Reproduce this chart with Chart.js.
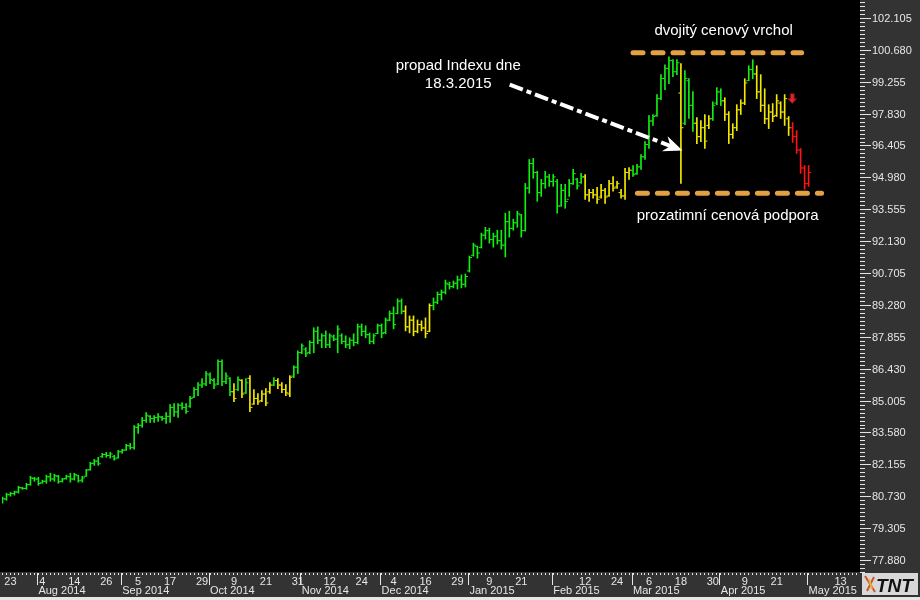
<!DOCTYPE html>
<html>
<head>
<meta charset="utf-8">
<script src="https://cdn.jsdelivr.net/npm/chart.js@4.4.1/dist/chart.umd.min.js"></script>
<style>
  html, body { margin: 0; padding: 0; background: #000; }
  canvas { display: block; }
</style>
</head>
<body>
<canvas id="chart" width="920" height="600"></canvas>
<script>
// denni OHLC data indexu (index = obchodni den od 21.7.2014)
const OPEN = [
  80.45, 80.60, 80.80, 80.85, 80.92, 81.10, 81.08, 81.25, 81.52, 81.50,
  81.33, 81.40, 81.60, 81.50, 81.62, 81.40, 81.52, 81.60, 81.50, 81.65,
  81.45, 81.62, 81.92, 82.20, 82.30, 82.50, 82.60, 82.55, 82.50, 82.45,
  82.72, 82.80, 82.98, 82.90, 83.80, 83.90, 84.12, 84.30, 84.20, 84.25,
  84.26, 84.20, 84.30, 84.70, 84.50, 84.80, 84.70, 84.75, 85.15, 85.50,
  85.70, 85.75, 86.15, 85.90, 85.75, 86.75, 85.85, 86.00, 85.40, 85.50,
  85.90, 85.35, 86.00, 84.85, 85.10, 85.00, 85.30, 85.40, 85.70, 85.90,
  85.70, 85.50, 85.30, 86.10, 86.50, 87.15, 87.30, 87.15, 87.60, 88.10,
  87.70, 87.90, 87.50, 87.85, 87.75, 87.90, 87.65, 87.50, 87.70, 87.60,
  88.30, 88.10, 87.95, 87.65, 88.00, 88.35, 88.05, 88.60, 88.90, 88.90,
  89.45, 89.00, 88.30, 88.60, 88.10, 88.40, 88.25, 88.10, 89.25, 89.40,
  89.75, 89.85, 90.20, 90.10, 90.25, 90.40, 90.20, 90.80, 91.50, 91.90,
  91.85, 92.40, 92.60, 92.20, 92.35, 92.15, 91.95, 93.00, 92.70, 92.95,
  93.30, 92.60, 94.50, 95.60, 95.20, 94.30, 94.70, 95.00, 94.80, 94.80,
  93.70, 94.40, 94.00, 94.70, 94.90, 94.75, 95.00, 94.20, 94.30, 94.20,
  94.10, 94.40, 94.15, 94.70, 94.55, 94.30, 94.15, 95.20, 95.30, 95.15,
  95.45, 95.90, 96.45, 97.50, 97.75, 98.50, 99.40, 99.85, 100.20, 99.70,
  98.75, 97.40, 99.30, 98.20, 97.40, 96.80, 97.20, 97.30, 97.60, 98.30,
  98.80, 98.40, 97.80, 96.90, 97.20, 98.00, 98.30, 99.30, 99.80, 99.60,
  98.80, 98.20, 97.60, 97.90, 97.75, 98.30, 97.90, 97.60, 97.20, 96.80,
  96.20, 95.40, 94.70
];
const HIGH = [
  80.69, 80.87, 80.91, 80.96, 81.18, 81.13, 81.31, 81.62, 81.58, 81.58,
  81.45, 81.67, 81.76, 81.71, 81.67, 81.53, 81.67, 81.76, 81.76, 81.67,
  81.62, 81.93, 82.25, 82.38, 82.47, 82.65, 82.69, 82.69, 82.56, 82.78,
  82.83, 83.05, 83.09, 83.89, 83.98, 84.25, 84.47, 84.34, 84.34, 84.43,
  84.30, 84.47, 84.83, 84.87, 84.87, 84.92, 84.87, 85.19, 85.59, 85.81,
  85.99, 86.30, 86.25, 85.99, 86.83, 86.83, 86.25, 86.03, 85.76, 86.07,
  85.94, 85.99, 86.12, 85.50, 85.32, 85.45, 85.54, 85.81, 86.03, 85.99,
  85.81, 85.72, 86.12, 86.56, 87.23, 87.54, 87.37, 87.68, 88.26, 88.30,
  87.99, 88.12, 87.99, 87.94, 88.35, 87.99, 87.90, 87.81, 87.99, 88.43,
  88.43, 88.35, 88.03, 87.99, 88.43, 88.43, 88.70, 89.01, 89.19, 89.55,
  89.55, 89.24, 88.79, 88.79, 88.61, 88.57, 88.70, 89.33, 89.59, 89.86,
  89.95, 90.39, 90.30, 90.35, 90.57, 90.62, 90.66, 91.46, 92.04, 91.91,
  92.49, 92.75, 92.71, 92.49, 92.62, 92.62, 93.38, 93.47, 93.11, 93.47,
  93.33, 94.71, 95.78, 95.83, 95.25, 94.89, 95.25, 95.11, 95.11, 94.89,
  94.67, 94.67, 94.89, 95.34, 94.94, 95.16, 95.11, 94.45, 94.45, 94.53,
  94.67, 94.49, 94.85, 95.02, 94.80, 94.45, 95.38, 95.42, 95.51, 95.56,
  96.00, 96.58, 97.74, 97.79, 98.68, 99.57, 100.01, 100.37, 100.24, 100.24,
  100.06, 99.75, 99.39, 98.81, 97.65, 97.52, 97.79, 97.74, 98.36, 98.99,
  98.94, 98.54, 97.92, 97.38, 98.23, 98.45, 99.39, 99.97, 100.24, 99.97,
  99.57, 98.94, 98.23, 98.28, 98.68, 98.36, 98.68, 97.70, 97.43, 97.07,
  96.27, 95.51, 95.51
];
const LOW = [
  80.42, 80.55, 80.73, 80.78, 80.87, 81.04, 81.04, 81.22, 81.40, 81.22,
  81.31, 81.31, 81.40, 81.40, 81.31, 81.36, 81.49, 81.36, 81.45, 81.36,
  81.36, 81.62, 81.89, 82.11, 82.11, 82.47, 82.47, 82.43, 82.34, 82.43,
  82.65, 82.78, 82.83, 82.83, 83.54, 83.81, 84.03, 84.03, 84.03, 84.07,
  84.12, 83.98, 84.03, 84.30, 84.25, 84.61, 84.43, 84.70, 85.14, 85.23,
  85.59, 85.67, 85.76, 85.54, 85.72, 85.67, 85.76, 85.23, 84.96, 85.45,
  85.14, 85.32, 84.51, 84.83, 84.83, 84.96, 84.78, 85.32, 85.67, 85.54,
  85.36, 85.23, 85.18, 86.03, 86.21, 87.10, 86.97, 87.10, 87.14, 87.54,
  87.37, 87.37, 87.37, 87.68, 87.14, 87.54, 87.37, 87.32, 87.45, 87.54,
  87.90, 87.81, 87.54, 87.54, 87.99, 87.81, 87.99, 88.57, 88.21, 88.88,
  88.88, 88.12, 88.03, 87.90, 88.03, 88.12, 87.81, 88.08, 89.06, 89.33,
  89.50, 89.77, 89.99, 90.04, 89.99, 90.04, 90.08, 90.75, 91.46, 91.37,
  91.82, 92.22, 92.04, 91.86, 92.00, 91.77, 91.42, 92.31, 92.62, 92.75,
  92.31, 92.58, 94.27, 94.94, 93.91, 94.13, 94.49, 94.58, 94.58, 93.38,
  93.69, 93.60, 94.13, 94.67, 94.45, 94.71, 94.00, 93.91, 94.05, 93.82,
  94.05, 93.82, 94.13, 94.36, 94.49, 94.05, 94.00, 94.89, 95.02, 95.11,
  95.34, 95.78, 96.27, 97.30, 97.70, 98.45, 98.90, 99.17, 99.48, 99.57,
  94.71, 97.34, 97.61, 97.03, 96.49, 96.58, 96.27, 97.16, 97.52, 98.23,
  98.19, 97.52, 96.49, 96.72, 97.07, 97.79, 98.23, 99.30, 99.39, 98.50,
  97.92, 97.38, 97.16, 97.47, 97.70, 97.61, 97.30, 96.85, 96.54, 96.05,
  95.16, 94.45, 94.58
];
const CLOSE = [
  80.62, 80.80, 80.85, 80.92, 81.12, 81.08, 81.25, 81.55, 81.50, 81.30,
  81.40, 81.60, 81.50, 81.65, 81.38, 81.50, 81.62, 81.50, 81.70, 81.42,
  81.55, 81.90, 82.20, 82.30, 82.18, 82.60, 82.55, 82.62, 82.40, 82.72,
  82.78, 83.00, 82.90, 83.82, 83.90, 84.12, 84.35, 84.20, 84.25, 84.30,
  84.20, 84.30, 84.70, 84.50, 84.80, 84.70, 84.52, 85.10, 85.50, 85.70,
  85.75, 86.20, 85.95, 85.70, 86.75, 85.85, 86.10, 85.40, 85.10, 85.95,
  85.30, 85.80, 84.70, 85.10, 84.95, 85.30, 84.90, 85.70, 85.90, 85.70,
  85.50, 85.35, 86.05, 86.50, 87.15, 87.45, 87.10, 87.60, 88.10, 87.70,
  87.90, 87.50, 87.90, 87.75, 88.20, 87.65, 87.50, 87.70, 87.60, 88.30,
  88.10, 87.95, 87.65, 87.90, 88.35, 88.00, 88.60, 88.90, 88.40, 89.45,
  89.00, 88.30, 88.60, 88.10, 88.40, 88.25, 88.00, 89.25, 89.40, 89.75,
  89.85, 90.25, 90.10, 90.25, 90.40, 90.20, 90.55, 91.40, 91.95, 91.60,
  92.40, 92.60, 92.20, 92.35, 92.15, 91.95, 93.00, 92.70, 92.95, 93.35,
  92.60, 94.50, 95.60, 95.20, 94.30, 94.70, 95.00, 94.80, 95.00, 93.70,
  94.40, 93.90, 94.70, 95.15, 94.60, 95.00, 94.20, 94.30, 94.20, 94.00,
  94.40, 94.10, 94.70, 94.50, 94.70, 94.15, 95.20, 95.30, 95.10, 95.45,
  95.90, 96.45, 97.50, 97.70, 98.50, 99.40, 99.85, 100.20, 99.70, 100.10,
  97.20, 99.40, 98.20, 97.40, 96.80, 97.20, 96.60, 97.60, 98.20, 98.80,
  98.40, 97.80, 96.90, 97.20, 98.00, 98.30, 99.20, 99.80, 99.60, 98.80,
  98.20, 97.60, 97.90, 97.70, 98.40, 97.90, 98.50, 97.20, 96.80, 96.20,
  95.40, 94.70, 95.20
];

// barva signalu: zelena je vychozi, tady useky zlute / cervene [od, do, kod]
const SIGNAL_SPANS = [
  [58, 58, 'y'], [60, 60, 'y'], [62, 67, 'y'], [69, 72, 'y'],
  [101, 107, 'y'], [146, 157, 'y'], [170, 170, 'y'], [174, 177, 'y'],
  [181, 186, 'y'], [189, 197, 'y'], [198, 202, 'r']
];
const SIGNAL_COLORS = { g: '#12ee12', y: '#f4e800', r: '#ff1414' };

// osa Y
const Y_TICKS = [77.880, 79.305, 80.730, 82.155, 83.580, 85.005, 86.430, 87.855, 89.280,
  90.705, 92.130, 93.555, 94.980, 96.405, 97.830, 99.255, 100.680, 102.105];
const Y_MIN = 77.345;
const Y_MAX = 102.8175;

// osa X: popisky dnu a mesicu (index obchodniho dne)
const DAY_TICKS = [[2, '23'], [10, '4'], [18, '14'], [26, '26'], [34, '5'], [42, '17'], [50, '29'],
  [58, '9'], [66, '21'], [74, '31'], [82, '12'], [90, '24'], [98, '4'], [106, '16'], [114, '29'],
  [122, '9'], [130, '21'], [146, '12'], [154, '24'], [162, '6'], [170, '18'], [178, '30'],
  [186, '9'], [194, '21'], [210, '13']];
const MONTH_TICKS = [[9, 'Aug 2014'], [30, 'Sep 2014'], [52, 'Oct 2014'], [75, 'Nov 2014'],
  [95, 'Dec 2014'], [117, 'Jan 2015'], [138, 'Feb 2015'], [158, 'Mar 2015'], [180, 'Apr 2015'],
  [202, 'May 2015']];
const X_MIN = -0.125;
const X_MAX = 214.125;

// anotace v souradnicich dat
const TOP_LINE = { from: 158, to: 200.25, value: 100.55 };
const SUPPORT_LINE = { from: 159.1, to: 205.25, value: 94.27 };
const TEXTS = [
  { text: 'dvojitý cenový vrchol', x: 180.7, y: 101.53 },
  { text: 'prozatimní cenová podpora', x: 181.7, y: 93.24 },
  { text: 'propad Indexu dne', x: 114.2, y: 99.97 },
  { text: '18.3.2015', x: 114.2, y: 99.17 }
];
const ARROW = { x0: 127.1, y0: 99.12, x1: 170.4, y1: 96.18 };
const RED_MARK = { x: 197.9, top: 98.72, bottom: 98.28 };

const FONT = "'Liberation Sans', Arial, sans-serif";
Chart.defaults.font.family = FONT;

// barvy pro kazdy sloupec
const barColors = HIGH.map(() => SIGNAL_COLORS.g);
SIGNAL_SPANS.forEach(([a, b, code]) => {
  for (let i = a; i <= b; i++) barColors[i] = SIGNAL_COLORS[code];
});

const rangeData = HIGH.map((h, i) => ({ x: i, y: [LOW[i], h] }));
const openData = OPEN.map((v, i) => ({ x: i - 0.375, y: v }));
const closeData = CLOSE.map((v, i) => ({ x: i + 0.375, y: v }));

// pozadi, osy a anotace
const decorPlugin = {
  id: 'decor',
  beforeDraw(chart) {
    const ctx = chart.ctx;
    const a = chart.chartArea;
    ctx.save();
    ctx.fillStyle = '#000';
    ctx.fillRect(0, 0, chart.width, chart.height);
    ctx.fillStyle = '#333333';
    ctx.fillRect(a.right + 3, 0, chart.width - a.right - 3, a.bottom);
    ctx.fillRect(0, a.bottom, chart.width, 25);
    ctx.fillStyle = '#e6e6e6';
    ctx.fillRect(0, a.bottom + 25, chart.width, chart.height - a.bottom - 25);
    ctx.restore();
  },
  afterDraw(chart) {
    const ctx = chart.ctx;
    const a = chart.chartArea;
    const xs = chart.scales.x;
    const ys = chart.scales.y;
    const px = v => xs.getPixelForValue(v);
    const py = v => ys.getPixelForValue(v);
    ctx.save();

    // carky a popisky na ose Y
    ctx.fillStyle = '#e6e6e6';
    const step = (Y_TICKS[1] - Y_TICKS[0]) / 8;
    for (let k = -8; k <= (Y_TICKS.length + 1) * 8; k++) {
      const y = Math.round(py(Y_TICKS[0] + k * step));
      if (y < 0 || y > a.bottom) continue;
      if (k % 8 === 0) ctx.fillRect(a.right + 3, y, 11, 1);
      else ctx.fillRect(a.right + 3, y, 5, 1);
    }
    ctx.font = '11px ' + FONT;
    ctx.textBaseline = 'middle';
    ctx.textAlign = 'left';
    Y_TICKS.forEach(v => ctx.fillText(v.toFixed(3), a.right + 15, Math.round(py(v)) + 0.5));

    // teckovani na ose X
    for (let i = 0; i <= 214; i++) {
      ctx.fillRect(Math.floor(px(i)), a.bottom + 1, 1, 2);
    }
    MONTH_TICKS.forEach(([i]) => {
      ctx.fillRect(Math.floor(px(i)) - 1, a.bottom + 1, 1, 12);
    });

    ctx.textAlign = 'center';
    DAY_TICKS.forEach(([i, label]) => ctx.fillText(label, px(i), a.bottom + 9.5));
    ctx.textAlign = 'left';
    MONTH_TICKS.forEach(([i, label]) => ctx.fillText(label, px(i), a.bottom + 19));

    // prerusovane cary vrcholu a podpory
    ctx.strokeStyle = '#e2a244';
    ctx.lineWidth = 5;
    ctx.lineCap = 'round';
    ctx.setLineDash([10, 10]);
    [TOP_LINE, SUPPORT_LINE].forEach(l => {
      ctx.beginPath();
      ctx.moveTo(px(l.from), py(l.value));
      ctx.lineTo(px(l.to), py(l.value));
      ctx.stroke();
    });

    // sipka carka-tecka
    const x0 = px(ARROW.x0), y0 = py(ARROW.y0), x1 = px(ARROW.x1), y1 = py(ARROW.y1);
    const ang = Math.atan2(y1 - y0, x1 - x0);
    const ux = Math.cos(ang), uy = Math.sin(ang);
    ctx.strokeStyle = '#ffffff';
    ctx.lineWidth = 4;
    ctx.lineCap = 'butt';
    ctx.setLineDash([14, 4, 5, 4]);
    ctx.beginPath();
    ctx.moveTo(x0, y0);
    ctx.lineTo(x1 - ux * 12, y1 - uy * 12);
    ctx.stroke();
    ctx.setLineDash([]);
    ctx.fillStyle = '#ffffff';
    ctx.beginPath();
    ctx.moveTo(x1, y1);
    ctx.lineTo(x1 - ux * 19 - uy * 8, y1 - uy * 19 + ux * 8);
    ctx.lineTo(x1 - ux * 13, y1 - uy * 13);
    ctx.lineTo(x1 - ux * 19 + uy * 8, y1 - uy * 19 - ux * 8);
    ctx.closePath();
    ctx.fill();

    // cervena sipka dolu
    const rx = px(RED_MARK.x), rt = py(RED_MARK.top), rb = py(RED_MARK.bottom);
    const rm = rt + (rb - rt) * 0.5;
    ctx.fillStyle = '#e02424';
    ctx.strokeStyle = '#6a1414';
    ctx.lineWidth = 1;
    ctx.beginPath();
    ctx.moveTo(rx - 2, rt);
    ctx.lineTo(rx + 2, rt);
    ctx.lineTo(rx + 2, rm);
    ctx.lineTo(rx + 4.5, rm);
    ctx.lineTo(rx, rb);
    ctx.lineTo(rx - 4.5, rm);
    ctx.lineTo(rx - 2, rm);
    ctx.closePath();
    ctx.fill();
    ctx.stroke();

    // texty
    ctx.fillStyle = '#ffffff';
    ctx.font = '15px ' + FONT;
    ctx.textAlign = 'center';
    ctx.textBaseline = 'middle';
    TEXTS.forEach(t => ctx.fillText(t.text, px(t.x), py(t.y)));

    // logo v rohu
    const lx = a.right + 5, ly = a.bottom + 1;
    ctx.fillStyle = '#d8d8d8';
    ctx.fillRect(lx, ly, 56, 22);
    ctx.strokeStyle = '#c8582a';
    ctx.lineWidth = 2;
    ctx.beginPath();
    ctx.moveTo(lx + 3, ly + 3);
    ctx.lineTo(lx + 13, ly + 19);
    ctx.moveTo(lx + 12, ly + 4);
    ctx.lineTo(lx + 5, ly + 18);
    ctx.stroke();
    ctx.strokeStyle = '#e8b040';
    ctx.beginPath();
    ctx.moveTo(lx + 7, ly + 6);
    ctx.lineTo(lx + 10, ly + 16);
    ctx.stroke();
    ctx.fillStyle = '#111';
    ctx.font = 'italic bold 19px ' + FONT;
    ctx.textAlign = 'left';
    ctx.textBaseline = 'alphabetic';
    ctx.fillText('TNT', lx + 14, ly + 19);

    ctx.restore();
  }
};

new Chart(document.getElementById('chart'), {
  type: 'bar',
  data: {
    datasets: [
      {
        type: 'bar',
        data: rangeData,
        backgroundColor: barColors,
        borderWidth: 0,
        barThickness: 1
      },
      {
        type: 'scatter',
        data: openData,
        pointStyle: 'line',
        pointRadius: 1,
        pointHoverRadius: 1,
        borderWidth: 1,
        borderColor: barColors,
        showLine: false
      },
      {
        type: 'scatter',
        data: closeData,
        pointStyle: 'line',
        pointRadius: 1,
        pointHoverRadius: 1,
        borderWidth: 1,
        borderColor: barColors,
        showLine: false
      }
    ]
  },
  options: {
    responsive: false,
    animation: false,
    devicePixelRatio: 1,
    layout: { padding: 0 },
    plugins: {
      legend: { display: false },
      tooltip: { enabled: false }
    },
    scales: {
      x: {
        type: 'linear',
        min: X_MIN,
        max: X_MAX,
        offset: false,
        grid: { display: false, offset: false },
        border: { display: false },
        ticks: { display: false },
        afterFit: s => { s.height = 28; }
      },
      y: {
        type: 'linear',
        position: 'right',
        min: Y_MIN,
        max: Y_MAX,
        grid: { display: false },
        border: { display: false },
        afterBuildTicks: s => { s.ticks = Y_TICKS.map(v => ({ value: v })); },
        ticks: { display: false },
        afterFit: s => { s.width = 63; }
      }
    }
  },
  plugins: [decorPlugin]
});
</script>
</body>
</html>
